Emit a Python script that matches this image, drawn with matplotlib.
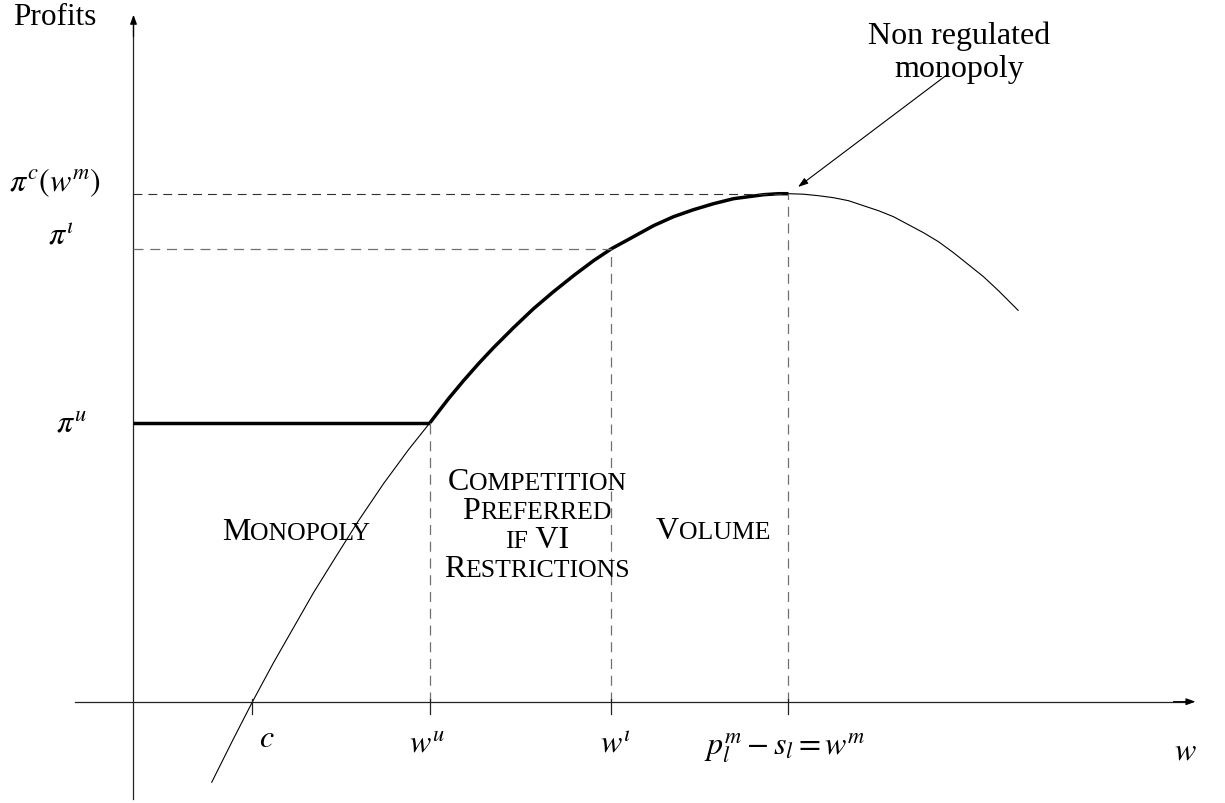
import numpy as np
import matplotlib
matplotlib.use("Agg")
import matplotlib.pyplot as plt
from matplotlib.offsetbox import TextArea, HPacker, VPacker, AnnotationBbox

plt.rcParams['mathtext.fontset'] = 'stix'
plt.rcParams['font.family'] = ['Liberation Serif', 'DejaVu Serif']

# ---- data ----
curve_w = [0.78, 1.00, 1.19, 1.40, 1.60, 1.80, 2.03, 2.25, 2.50, 2.75, 2.965,
           3.15, 3.30, 3.45, 3.60, 3.80, 4.00, 4.20, 4.40, 4.60, 4.78,
           5.00, 5.20, 5.40, 5.60, 5.80, 6.00, 6.15, 6.30, 6.45, 6.55,
           6.70, 6.85, 7.00, 7.15, 7.30, 7.45, 7.60, 7.75, 7.90, 8.05,
           8.20, 8.35, 8.50, 8.65, 8.75, 8.85]
curve_pi = [-0.81, -0.37, 0.00, 0.39, 0.74, 1.09, 1.46, 1.81, 2.18, 2.52, 2.79,
            3.03, 3.21, 3.38, 3.54, 3.74, 3.93, 4.10, 4.26, 4.41, 4.53,
            4.65, 4.76, 4.85, 4.92, 4.98, 5.03, 5.05, 5.07, 5.08, 5.08,
            5.075, 5.06, 5.04, 5.01, 4.96, 4.91, 4.85, 4.77, 4.69, 4.60,
            4.49, 4.37, 4.25, 4.11, 4.01, 3.91]
c_val = 1.19
w_u = 2.965
w_iota = 4.78
w_m = 6.55
pi_u = 2.79
pi_iota = 4.53
pi_m = 5.08

x_ticks = [c_val, w_u, w_iota, w_m]
x_tick_labels = [r'$c$', r'$w^u$', r'$w^{\iota}$', r'$p_l^m - s_l = w^m$']
y_labels = [r'$\pi^c(w^m)$', r'$\pi^{\iota}$', r'$\pi^u$']

fig = plt.figure(figsize=(12.25, 8.04), dpi=100)
ax = fig.add_axes([0, 0, 1, 1])
ax.set_xlim(-1.335, 10.915)
ax.set_ylim(-1.013, 7.027)
ax.axis('off')

axis_col = '#222222'
# axes with arrows
ax.plot([-0.585, 10.55], [0, 0], color=axis_col, lw=0.9)
ax.plot([0, 0], [-0.97, 6.80], color=axis_col, lw=0.9)
ax.annotate('', xy=(10.62, 0), xytext=(10.40, 0),
            arrowprops=dict(arrowstyle='-|>,head_length=0.55,head_width=0.2', color='black', lw=0.9, shrinkA=0, shrinkB=0))
ax.annotate('', xy=(0, 6.87), xytext=(0, 6.65),
            arrowprops=dict(arrowstyle='-|>,head_length=0.55,head_width=0.2', color='black', lw=0.9, shrinkA=0, shrinkB=0))

# curve
cw = np.array(curve_w)
cp = np.array(curve_pi)
ax.plot(cw, cp, color='black', lw=0.8, solid_capstyle='butt', solid_joinstyle='round')
mask = (cw >= w_u) & (cw <= w_m)
ax.plot(cw[mask], cp[mask], color='black', lw=2.5, solid_capstyle='butt', solid_joinstyle='round')
ax.plot([0, w_u], [pi_u, pi_u], color='black', lw=2.5, solid_capstyle='butt')

# dashed guides
dash = (0, (8, 5.4))
gray = '#707070'
ax.plot([0, w_m], [pi_m, pi_m], color='#303030', lw=0.8, linestyle=dash)
ax.plot([0, w_iota], [pi_iota, pi_iota], color=gray, lw=0.9, linestyle=dash)
ax.plot([w_u, w_u], [0, pi_u], color=gray, lw=0.9, linestyle=dash)
ax.plot([w_iota, w_iota], [0, pi_iota], color=gray, lw=0.9, linestyle=dash)
ax.plot([w_m, w_m], [0, pi_m], color=gray, lw=0.9, linestyle=dash)

# ticks
for xt in x_ticks:
    ax.plot([xt, xt], [0.03, -0.12], color=axis_col, lw=0.9)

# tick labels
mfs = 23
tick_pos = [(1.335, -0.373), (2.935, -0.423), (4.815, -0.423), (6.515, -0.453)]
for lab, (px, py) in zip(x_tick_labels, tick_pos):
    ax.text(px, py, lab, fontsize=mfs, ha='center', va='center')
ax.text(10.515, -0.493, r'$w$', fontsize=mfs, ha='center', va='center')

ylab_pos = [(-0.785, 5.197), (-0.725, 4.657), (-0.625, 2.777)]
for lab, (px, py) in zip(y_labels, ylab_pos):
    ax.text(px, py, lab, fontsize=mfs, ha='center', va='center')

ax.text(-0.785, 6.85, 'Profits', fontsize=22.5, ha='center', va='center')

# annotation
ax.text(8.255, 6.50, 'Non regulated\nmonopoly', fontsize=23, ha='center', va='center',
        linespacing=1.15)
ax.annotate('', xy=(6.645, 5.147), xytext=(8.145, 6.277),
            arrowprops=dict(arrowstyle='-|>,head_length=0.6,head_width=0.2', color='black', lw=0.8,
                            shrinkA=0, shrinkB=0))

# small caps text
BIG = 23
SMALL = 18.5


def sc_line(parts):
    kids = []
    for s, big in parts:
        kids.append(TextArea(s, textprops=dict(fontsize=BIG if big else SMALL, color='black')))
    return HPacker(children=kids, align='baseline', pad=0, sep=0)


def place(box, xy):
    ab = AnnotationBbox(box, xy, frameon=False, box_alignment=(0.5, 0.5), pad=0)
    ax.add_artist(ab)


place(sc_line([('M', True), ('ONOPOLY', False)]), (1.625, 1.697))
place(sc_line([('V', True), ('OLUME', False)]), (5.795, 1.707))
block = VPacker(children=[
    sc_line([('C', True), ('OMPETITION', False)]),
    sc_line([('P', True), ('REFERRED', False)]),
    sc_line([('IF', False), (' VI', True)]),
    sc_line([('R', True), ('ESTRICTIONS', False)]),
], align='center', pad=0, sep=0)
place(block, (4.035, 1.767))

fig.savefig('out.png', dpi=100)
